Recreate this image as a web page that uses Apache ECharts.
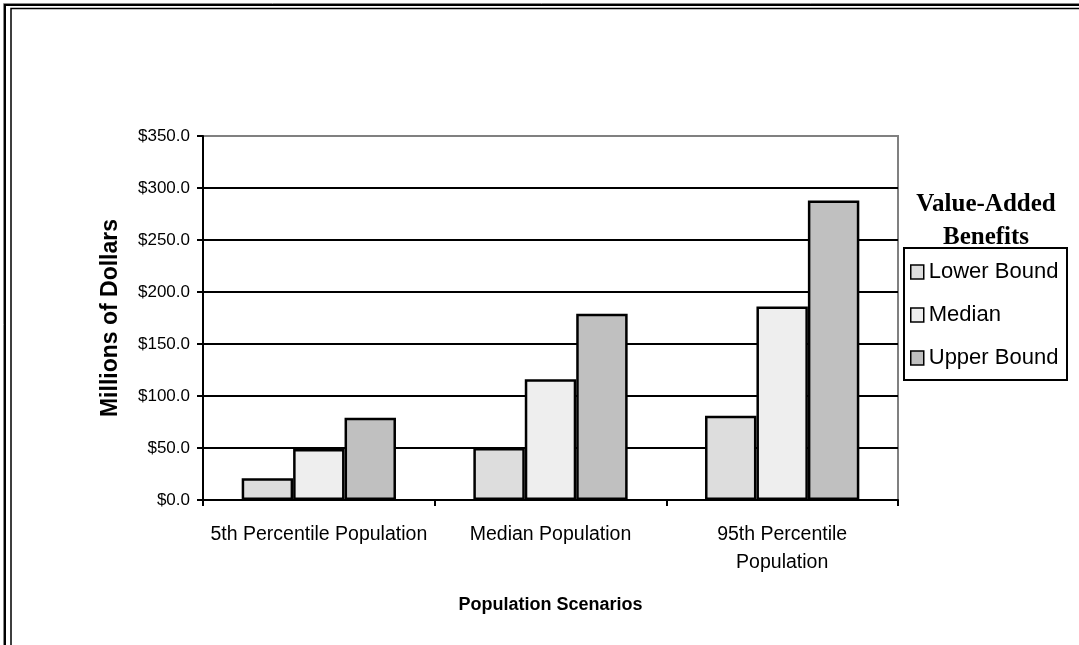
<!DOCTYPE html>
<html>
<head>
<meta charset="utf-8">
<script src="https://cdn.jsdelivr.net/npm/echarts@6/dist/echarts.min.js"></script>
<style>
  html, body { margin: 0; padding: 0; background: #fff; }
  #chart { width: 1079px; height: 645px; }
</style>
</head>
<body>
<div id="chart"></div>
<script>
// data
const categories = ['5th Percentile Population', 'Median Population', '95th Percentile\nPopulation'];
const lowerBound = [21, 50, 81];
const medianVals = [49, 116, 186];
const upperBound = [79, 179, 288];
const yTicks = [0, 50, 100, 150, 200, 250, 300, 350];

const chart = echarts.init(document.getElementById('chart'));

function barSeries(name, values, color) {
    return {
        name: name,
        type: 'bar',
        data: values,
        barGap: '0%',
        barCategoryGap: '33.4%',
        itemStyle: { color: color, borderColor: '#000', borderWidth: 2.5 }
    };
}

// grid lines: black, the top one grey like the plot border
const splitColors = yTicks.map((v, i) => i === yTicks.length - 1 ? '#808080' : '#000');

const option = {
    animation: false,
    backgroundColor: '#fff',
    textStyle: { fontFamily: 'Arial, "Liberation Sans", sans-serif' },
    grid: {
        left: 203, right: 181, top: 136, bottom: 145,
        show: true, borderColor: '#808080', borderWidth: 2
    },
    title: {
        text: 'Value-Added\nBenefits',
        left: 986, top: 188, padding: 0, textAlign: 'center',
        textStyle: {
            fontFamily: '"Liberation Serif", "Times New Roman", serif',
            fontWeight: 'bold', fontSize: 25, lineHeight: 33, color: '#000'
        }
    },
    legend: {
        orient: 'vertical',
        left: 910, top: 260, padding: 0,
        itemWidth: 13, itemHeight: 14, itemGap: 19,
        icon: 'rect',
        itemStyle: { borderColor: '#000', borderWidth: 1.5 },
        textStyle: { fontSize: 22, lineHeight: 24, color: '#000' },
        data: ['Lower Bound', 'Median', 'Upper Bound']
    },
    xAxis: {
        type: 'category',
        data: categories,
        name: 'Population Scenarios',
        nameLocation: 'middle',
        nameGap: 96,
        nameTextStyle: { fontWeight: 'bold', fontSize: 18, color: '#000' },
        axisLine: { lineStyle: { color: '#000', width: 2 } },
        axisTick: { show: true, inside: false, length: 6, lineStyle: { color: '#000', width: 2 } },
        axisLabel: { fontSize: 19.5, lineHeight: 28, margin: 21, color: '#000', interval: 0 }
    },
    yAxis: {
        type: 'value',
        min: 0, max: 350, interval: 50,
        name: 'Millions of Dollars',
        nameLocation: 'middle',
        nameGap: 81,
        nameTextStyle: { fontWeight: 'bold', fontSize: 23, color: '#000' },
        axisLine: { show: true, lineStyle: { color: '#000', width: 2 } },
        axisTick: { show: true, inside: false, length: 6, lineStyle: { color: '#000', width: 2 } },
        axisLabel: {
            fontSize: 17, margin: 13, color: '#000',
            formatter: v => '$' + v.toFixed(1)
        },
        splitLine: { show: true, lineStyle: { color: splitColors, width: 2 } }
    },
    graphic: [
        // outer double frame (right and bottom edges run off the picture)
        { type: 'rect', z: -1, shape: { x: 3.5, y: 3.5, width: 1200, height: 800 }, style: { fill: null, stroke: '#888', lineWidth: 1 } },
        { type: 'rect', z: -1, shape: { x: 5, y: 5, width: 1200, height: 800 }, style: { fill: null, stroke: '#000', lineWidth: 2 } },
        { type: 'rect', z: -1, shape: { x: 11, y: 8.5, width: 1200, height: 800 }, style: { fill: null, stroke: '#000', lineWidth: 1.5 } },
        // legend box
        { type: 'rect', z: 1, shape: { x: 904, y: 248, width: 163, height: 132 }, style: { fill: null, stroke: '#000', lineWidth: 2 } }
    ],
    series: [
        barSeries('Lower Bound', lowerBound, '#dddddd'),
        barSeries('Median', medianVals, '#eeeeee'),
        barSeries('Upper Bound', upperBound, '#c0c0c0')
    ]
};

chart.setOption(option);
</script>
</body>
</html>
